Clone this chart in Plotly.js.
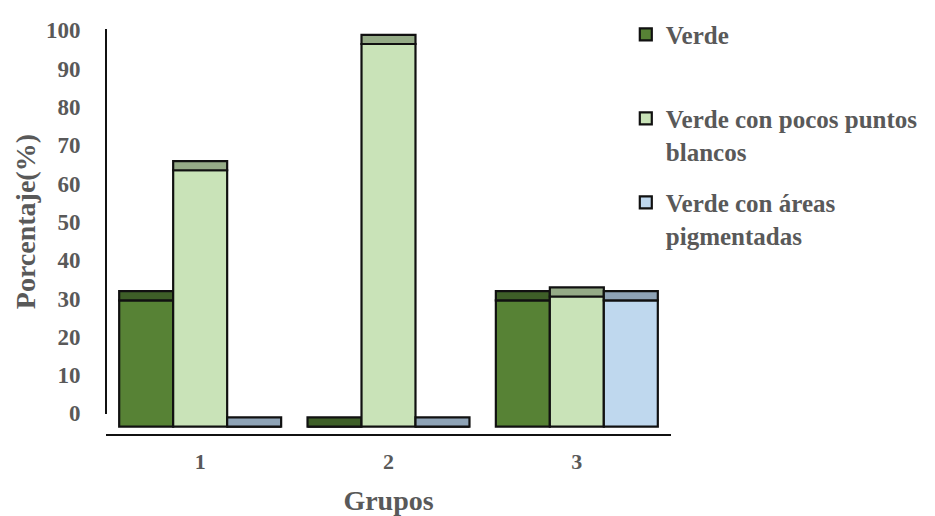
<!DOCTYPE html>
<html>
<head>
<meta charset="utf-8">
<script src="https://cdn.plot.ly/plotly-3.0.1.min.js"></script>
<style>
  html, body { margin: 0; padding: 0; background: #ffffff; }
  #chart { width: 935px; height: 516px; }
</style>
</head>
<body>
<div id="chart"></div>
<script>
// Groups on the horizontal axis
const grupos = ['1', '2', '3'];

// Percentage of each colour class per group
const verde = [33, 0, 33];
const verdePocosPuntos = [67, 100, 34];
const verdeAreasPigmentadas = [0, 0, 33];

// Legend labels
const nombres = ['Verde', 'Verde con pocos puntos<br>blancos', 'Verde con áreas<br>pigmentadas'];

// Value-axis tick labels
const ticksValores = [0, 10, 20, 30, 40, 50, 60, 70, 80, 90, 100];

// Face colours: front face and the darker top face of each column
const coloresFrente = ['#578235', '#c9e3b8', '#bfd8ee'];
const coloresTapa = ['#3e5f28', '#95ab87', '#8ea3b6'];

const series = [verde, verdePocosPuntos, verdeAreasPigmentadas];
const TAPA = 2.4;            // thickness of the top face, in axis units
const GRIS = '#595959';
const FUENTE = 'Liberation Serif, Times New Roman, serif';

const traces = [];
series.forEach((vals, i) => {
  // front face of the column
  traces.push({
    type: 'bar',
    x: grupos,
    y: vals,
    name: i === 0 ? nombres[i] + '<br> ' : nombres[i],
    offsetgroup: 's' + i,
    legendgroup: 'g' + i,
    marker: { color: coloresFrente[i], line: { color: '#111111', width: 2.2 } },
    hoverinfo: 'x+y'
  });
  // top face sitting on the front face
  traces.push({
    type: 'bar',
    x: grupos,
    y: vals.map(() => TAPA),
    base: vals,
    offsetgroup: 's' + i,
    legendgroup: 'g' + i,
    showlegend: false,
    marker: { color: coloresTapa[i], line: { color: '#111111', width: 2.2 } },
    hoverinfo: 'skip'
  });
});

// carrier for the value scale drawn on the back wall
traces.push({
  type: 'scatter', mode: 'markers',
  x: [grupos[0], grupos[0]], y: [ticksValores[0], ticksValores[ticksValores.length - 1]],
  yaxis: 'y2', marker: { opacity: 0 }, showlegend: false, hoverinfo: 'skip'
});

const layout = {
  width: 935, height: 516,
  paper_bgcolor: '#ffffff', plot_bgcolor: 'rgba(0,0,0,0)',
  margin: { l: 106, r: 263, t: 20, b: 82 },
  font: { family: FUENTE, color: GRIS, size: 22, weight: 'bold' },
  barmode: 'group',
  bargap: 0.14,
  bargroupgap: 0,
  showlegend: true,
  legend: {
    x: 0.92, xanchor: 'left', y: 1.035, yanchor: 'top',
    traceorder: 'grouped', tracegroupgap: 16, valign: 'top',
    font: { family: FUENTE, color: GRIS, size: 25, weight: 'bold' },
    bgcolor: 'rgba(0,0,0,0)'
  },
  xaxis: {
    type: 'category', range: [-0.5, 2.5],
    showline: true, linecolor: '#111111', linewidth: 2,
    ticks: 'outside', ticklen: 7, tickcolor: 'rgba(0,0,0,0)',
    tickfont: { family: FUENTE, color: GRIS, size: 22, weight: 'bold' },
    showgrid: false, zeroline: false,
    title: { text: 'Grupos', standoff: 22, font: { family: FUENTE, color: GRIS, size: 28, weight: 'bold' } }
  },
  yaxis: {
    range: [-1.93, 104.7],
    showline: false, showticklabels: false, showgrid: false, zeroline: false, ticks: ''
  },
  yaxis2: {
    anchor: 'free', position: 0, side: 'left',
    domain: [0.0483, 0.9928],
    range: [-0.26, 100.39],
    tickvals: ticksValores,
    showline: true, linecolor: '#111111', linewidth: 2,
    ticks: 'outside', ticklen: 20, tickcolor: 'rgba(0,0,0,0)',
    tickfont: { family: FUENTE, color: GRIS, size: 23, weight: 'bold' },
    showgrid: false, zeroline: false,
    title: { text: 'Porcentaje(%)', standoff: 1, font: { family: FUENTE, color: GRIS, size: 28, weight: 'bold' } }
  }
};

Plotly.newPlot('chart', traces, layout, { displayModeBar: false, staticPlot: true });
</script>
</body>
</html>
